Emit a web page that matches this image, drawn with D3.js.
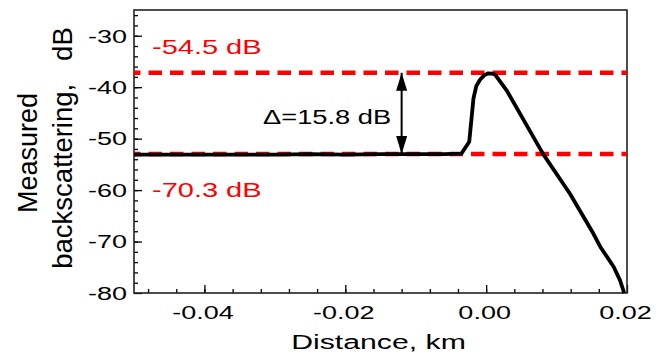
<!DOCTYPE html>
<html>
<head>
<meta charset="utf-8">
<script src="https://cdn.jsdelivr.net/npm/d3@7"></script>
<style>
  body { margin: 0; background: #fff; }
  text { font-family: Arial, "Liberation Sans", sans-serif; }
</style>
</head>
<body>
<svg id="chart"></svg>
<script>
// data
const distance = [-0.05, -0.045, -0.04, -0.035, -0.03, -0.025, -0.02, -0.015, -0.01, -0.006,
    -0.0035, -0.0024, -0.0018, -0.0014, -0.0009, -0.0003, 0.0003, 0.0008, 0.0013, 0.0029,
    0.0081, 0.0119, 0.0152, 0.0162, 0.0181, 0.0190, 0.0196];
const backscatter = [-53.1, -53.1, -53.1, -53.1, -53.1, -53.0, -53.1, -53.0, -53.0, -53.0,
    -52.9, -50.6, -42.2, -39.8, -38.6, -37.7, -37.3, -37.35, -37.6, -40.6,
    -53.0, -60.7, -68.4, -71.0, -74.9, -77.5, -80.0];
const levels = [-37.2, -53.0];
const levelLabels = ["-54.5 dB", "-70.3 dB"];
const deltaLabel = "\u0394=15.8 dB";
const xTicks = [-0.04, -0.02, 0.00, 0.02];
const yTicks = [-80, -70, -60, -50, -40, -30];

class BackscatterChart {

    constructor(el) {
        this.el = d3.select(el);
    }

    // horizontal text in the reference is drawn wide
    wide(sel, x, y, sx) {
        return sel.attr("transform", "translate(" + x + "," + y + ") scale(" + sx + ",1)");
    }

    draw() {
        const margin = {top: 10, right: 36, bottom: 62, left: 134},
            width = 663 - margin.left - margin.right,
            height = 355 - margin.top - margin.bottom;

        this.x = d3.scaleLinear().domain([-0.05, 0.02]).range([0, width]);
        this.y = d3.scaleLinear().domain([-80, -25]).range([height, 0]);
        const fmt = d3.formatLocale({decimal: ".", thousands: ",", grouping: [3],
            currency: ["", ""], minus: "-"});

        const svg = this.el
            .attr("width", width + margin.left + margin.right)
            .attr("height", height + margin.top + margin.bottom)
            .append("g")
            .attr("transform", "translate(" + margin.left + "," + margin.top + ")");

        // minor ticks
        svg.append("g")
            .attr("transform", "translate(0," + height + ")")
            .call(d3.axisBottom(this.x).tickValues(d3.range(-48, 20, 4).map(d => d / 1000))
                .tickSizeInner(-4).tickSizeOuter(0).tickFormat(""))
            .call(g => g.select(".domain").remove());
        svg.append("g")
            .call(d3.axisLeft(this.y).tickValues(d3.range(-78, -24, 2))
                .tickSizeInner(-4).tickSizeOuter(0).tickFormat(""))
            .call(g => g.select(".domain").remove());

        // major ticks
        const xAxis = svg.append("g")
            .attr("transform", "translate(0," + height + ")")
            .call(d3.axisBottom(this.x).tickValues(xTicks).tickSizeInner(-8).tickSizeOuter(0)
                .tickFormat(fmt.format(".2f")));
        xAxis.select(".domain").remove();
        xAxis.selectAll("text")
            .attr("y", 0).attr("dy", 0)
            .attr("font-size", "18px").attr("fill", "#000")
            .each((d, i, n) => this.wide(d3.select(n[i]), -2, 25.5, 1.5));

        const yAxis = svg.append("g")
            .call(d3.axisLeft(this.y).tickValues(yTicks).tickSizeInner(-8).tickSizeOuter(0)
                .tickFormat(fmt.format("d")));
        yAxis.select(".domain").remove();
        yAxis.selectAll("text")
            .attr("x", 0).attr("dy", "0.35em")
            .attr("font-size", "18px").attr("fill", "#000")
            .each((d, i, n) => this.wide(d3.select(n[i]), -7, 0, 1.5));

        svg.selectAll(".tick line").attr("stroke", "#000").attr("stroke-width", 1.3);

        // frame
        svg.append("rect")
            .attr("width", width).attr("height", height)
            .attr("fill", "none").attr("stroke", "#222").attr("stroke-width", 1.6);

        // reference levels
        svg.selectAll(".level")
            .data(levels)
            .enter().append("line")
            .attr("class", "level")
            .attr("x1", 0).attr("x2", width)
            .attr("y1", d => this.y(d)).attr("y2", d => this.y(d))
            .attr("stroke", "#ff0000").attr("stroke-width", 4.5)
            .attr("stroke-dasharray", "13.5,8").attr("stroke-dashoffset", 7);

        // the trace
        this.line = d3.line()
            .x((d, i) => this.x(distance[i]))
            .y(d => this.y(d));
        svg.append("path")
            .datum(backscatter)
            .attr("d", this.line)
            .attr("fill", "none").attr("stroke", "#000")
            .attr("stroke-width", 3.8).attr("stroke-linejoin", "round");

        // double arrow
        const defs = this.el.append("defs");
        defs.append("marker")
            .attr("id", "head")
            .attr("viewBox", "0 0 18 11")
            .attr("refX", 18).attr("refY", 5.5)
            .attr("markerWidth", 18).attr("markerHeight", 11)
            .attr("markerUnits", "userSpaceOnUse")
            .attr("orient", "auto-start-reverse")
            .append("path").attr("d", "M0,0L18,5.5L0,11Z").attr("fill", "#000");
        const ax = this.x(-0.012);
        svg.append("line")
            .attr("x1", ax).attr("x2", ax)
            .attr("y1", this.y(levels[1])).attr("y2", this.y(levels[0]))
            .attr("stroke", "#000").attr("stroke-width", 2)
            .attr("marker-start", "url(#head)").attr("marker-end", "url(#head)");

        // labels
        this.wide(svg.append("text").text(deltaLabel)
            .attr("font-size", "21px").attr("fill", "#000"), 129, 113.5, 1.3);
        levelLabels.forEach((t, i) => {
            this.wide(svg.append("text").text(t)
                .attr("font-size", "20px").attr("fill", "#ff0000"),
                18, [43.5, 186.5][i], 1.45);
        });

        // axis titles
        this.wide(svg.append("text").text("Distance, km")
            .attr("text-anchor", "middle")
            .attr("font-size", "21px").attr("fill", "#000"), width / 2 - 2, height + 55.5, 1.44);

        svg.append("text")
            .attr("transform", "translate(" + (37 - margin.left) + "," + 143 + ") rotate(-90)")
            .attr("text-anchor", "middle")
            .attr("font-size", "27px").attr("fill", "#000")
            .text("Measured");
        svg.append("text")
            .attr("transform", "translate(" + (71.5 - margin.left) + "," + 138 + ") rotate(-90)")
            .attr("text-anchor", "middle")
            .attr("font-size", "27.5px").attr("fill", "#000")
            .text("backscattering,\u00a0\u00a0 dB");
    }
}

new BackscatterChart("#chart").draw();
</script>
</body>
</html>
